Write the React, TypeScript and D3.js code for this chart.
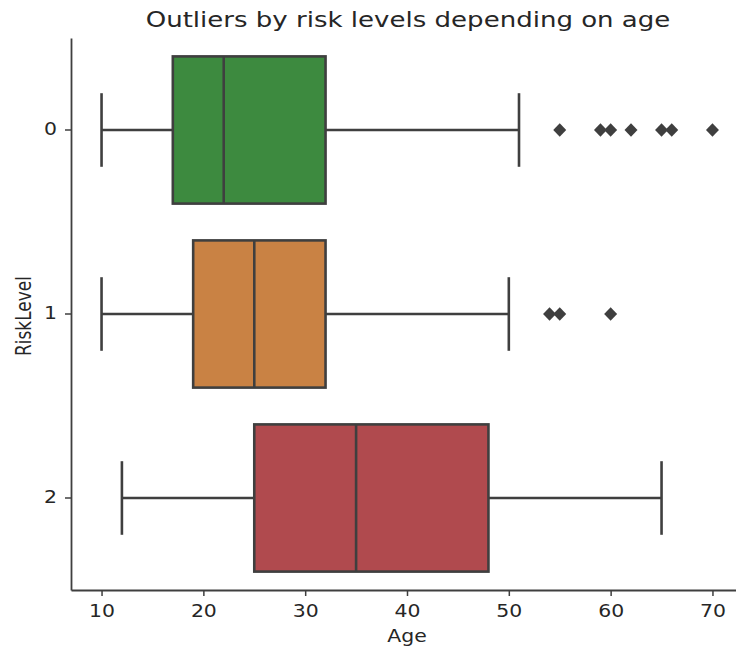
import React, { useEffect, useRef } from "react";
import * as d3 from "d3";

// box stats, one entry per risk level
const riskLevels = ["0", "1", "2"];
const whiskerLow = [10, 10, 12];
const q1 = [17, 19, 25];
const medians = [22, 25, 35];
const q3 = [32, 32, 48];
const whiskerHigh = [51, 50, 65];
const outliers = [
  [55, 59, 60, 62, 65, 66, 70],
  [54, 55, 60],
  [],
];
const boxColors = ["#3d8a3f", "#c98244", "#b04a4e"];
const xTicks = [10, 20, 30, 40, 50, 60, 70];

const App = () => {
  const svgRef = useRef<SVGSVGElement | null>(null);

  useEffect(() => {
    const width = 736;
    const height = 648;
    const marginTop = 38;
    const marginLeft = 71;
    const marginBottom = 58;
    const lineColor = "#3f3f3f";
    const textColor = "#262626";
    const font = "DejaVu Sans, sans-serif";
    const stretch = 1.2; // the source picture is a bit wider than tall

    const x = d3
      .scaleLinear()
      .domain([7, 73])
      .range([marginLeft, marginLeft + 672]);

    const y = d3
      .scaleBand()
      .domain(riskLevels)
      .range([marginTop, height - marginBottom]);

    const svg = d3
      .select(svgRef.current)
      .attr("width", width)
      .attr("height", height)
      .attr("viewBox", [0, 0, width, height].join(" "));

    svg.selectAll("*").remove();

    const boxH = y.bandwidth() * 0.8;
    const capH = boxH / 2;

    const groups = svg
      .append("g")
      .selectAll("g")
      .data(riskLevels)
      .join("g")
      .attr("transform", (d) => `translate(0,${(y(d) ?? 0) + y.bandwidth() / 2})`);

    // whiskers
    groups
      .append("line")
      .attr("x1", (_, i) => x(whiskerLow[i]))
      .attr("x2", (_, i) => x(q1[i]))
      .attr("stroke", lineColor)
      .attr("stroke-width", 2.6);
    groups
      .append("line")
      .attr("x1", (_, i) => x(q3[i]))
      .attr("x2", (_, i) => x(whiskerHigh[i]))
      .attr("stroke", lineColor)
      .attr("stroke-width", 2.6);

    // caps
    groups
      .append("line")
      .attr("x1", (_, i) => x(whiskerLow[i]))
      .attr("x2", (_, i) => x(whiskerLow[i]))
      .attr("y1", -capH / 2)
      .attr("y2", capH / 2)
      .attr("stroke", lineColor)
      .attr("stroke-width", 2.6);
    groups
      .append("line")
      .attr("x1", (_, i) => x(whiskerHigh[i]))
      .attr("x2", (_, i) => x(whiskerHigh[i]))
      .attr("y1", -capH / 2)
      .attr("y2", capH / 2)
      .attr("stroke", lineColor)
      .attr("stroke-width", 2.6);

    // boxes
    groups
      .append("rect")
      .attr("x", (_, i) => x(q1[i]))
      .attr("width", (_, i) => x(q3[i]) - x(q1[i]))
      .attr("y", -boxH / 2)
      .attr("height", boxH)
      .attr("fill", (_, i) => boxColors[i])
      .attr("stroke", lineColor)
      .attr("stroke-width", 2.6);

    // medians
    groups
      .append("line")
      .attr("x1", (_, i) => x(medians[i]))
      .attr("x2", (_, i) => x(medians[i]))
      .attr("y1", -boxH / 2)
      .attr("y2", boxH / 2)
      .attr("stroke", lineColor)
      .attr("stroke-width", 2.6);

    // outliers as diamonds
    const diamond = d3.symbol().type(d3.symbolDiamond).size(80);
    groups
      .selectAll("path.flier")
      .data((_, i) => outliers[i])
      .join("path")
      .attr("class", "flier")
      .attr("d", diamond)
      .attr("transform", (d) => `translate(${x(d)},0) scale(1.35,0.8)`)
      .attr("fill", lineColor);

    // x axis
    svg
      .append("g")
      .attr("transform", `translate(0,${height - marginBottom})`)
      .call(
        d3
          .axisBottom(x)
          .tickValues(xTicks)
          .tickSize(6)
          .tickSizeOuter(0)
      )
      .call((g) => g.select(".domain").attr("stroke", lineColor).attr("stroke-width", 1.8))
      .call((g) => g.selectAll(".tick line").attr("stroke", lineColor).attr("stroke-width", 1.5))
      .call((g) =>
        g
          .selectAll(".tick text")
          .attr("font-family", font)
          .attr("font-size", 17)
          .attr("fill", textColor)
          .attr("y", 27)
          .attr("dy", 0)
          .attr("transform", `scale(${stretch},1)`)
      );

    // y axis
    svg
      .append("g")
      .attr("transform", `translate(${marginLeft},0)`)
      .call(d3.axisLeft(y).tickSize(6).tickSizeOuter(0))
      .call((g) => g.select(".domain").attr("stroke", lineColor).attr("stroke-width", 1.8))
      .call((g) => g.selectAll(".tick line").attr("stroke", lineColor).attr("stroke-width", 1.5))
      .call((g) =>
        g
          .selectAll(".tick text")
          .attr("font-family", font)
          .attr("font-size", 17)
          .attr("fill", textColor)
          .attr("x", -14 / stretch)
          .attr("transform", `scale(${stretch},1)`)
      );

    // labels
    svg
      .append("text")
      .attr("transform", `translate(${x(40)},642) scale(${stretch},1)`)
      .attr("text-anchor", "middle")
      .attr("font-family", font)
      .attr("font-size", 17)
      .attr("fill", textColor)
      .text("Age");

    svg
      .append("text")
      .attr(
        "transform",
        `translate(31,${(marginTop + height - marginBottom) / 2 + 2}) scale(${stretch},1) rotate(-90)`
      )
      .attr("text-anchor", "middle")
      .attr("font-family", font)
      .attr("font-size", 17)
      .attr("fill", textColor)
      .text("RiskLevel");

    svg
      .append("text")
      .attr("transform", `translate(408,27) scale(1.24,1)`)
      .attr("text-anchor", "middle")
      .attr("font-family", font)
      .attr("font-size", 21)
      .attr("fill", textColor)
      .text("Outliers by risk levels depending on age");
  }, []);

  return (
    <svg
      ref={svgRef}
      style={{ position: "absolute", left: 0, top: 0, background: "#fff" }}
    />
  );
};

export default App;
